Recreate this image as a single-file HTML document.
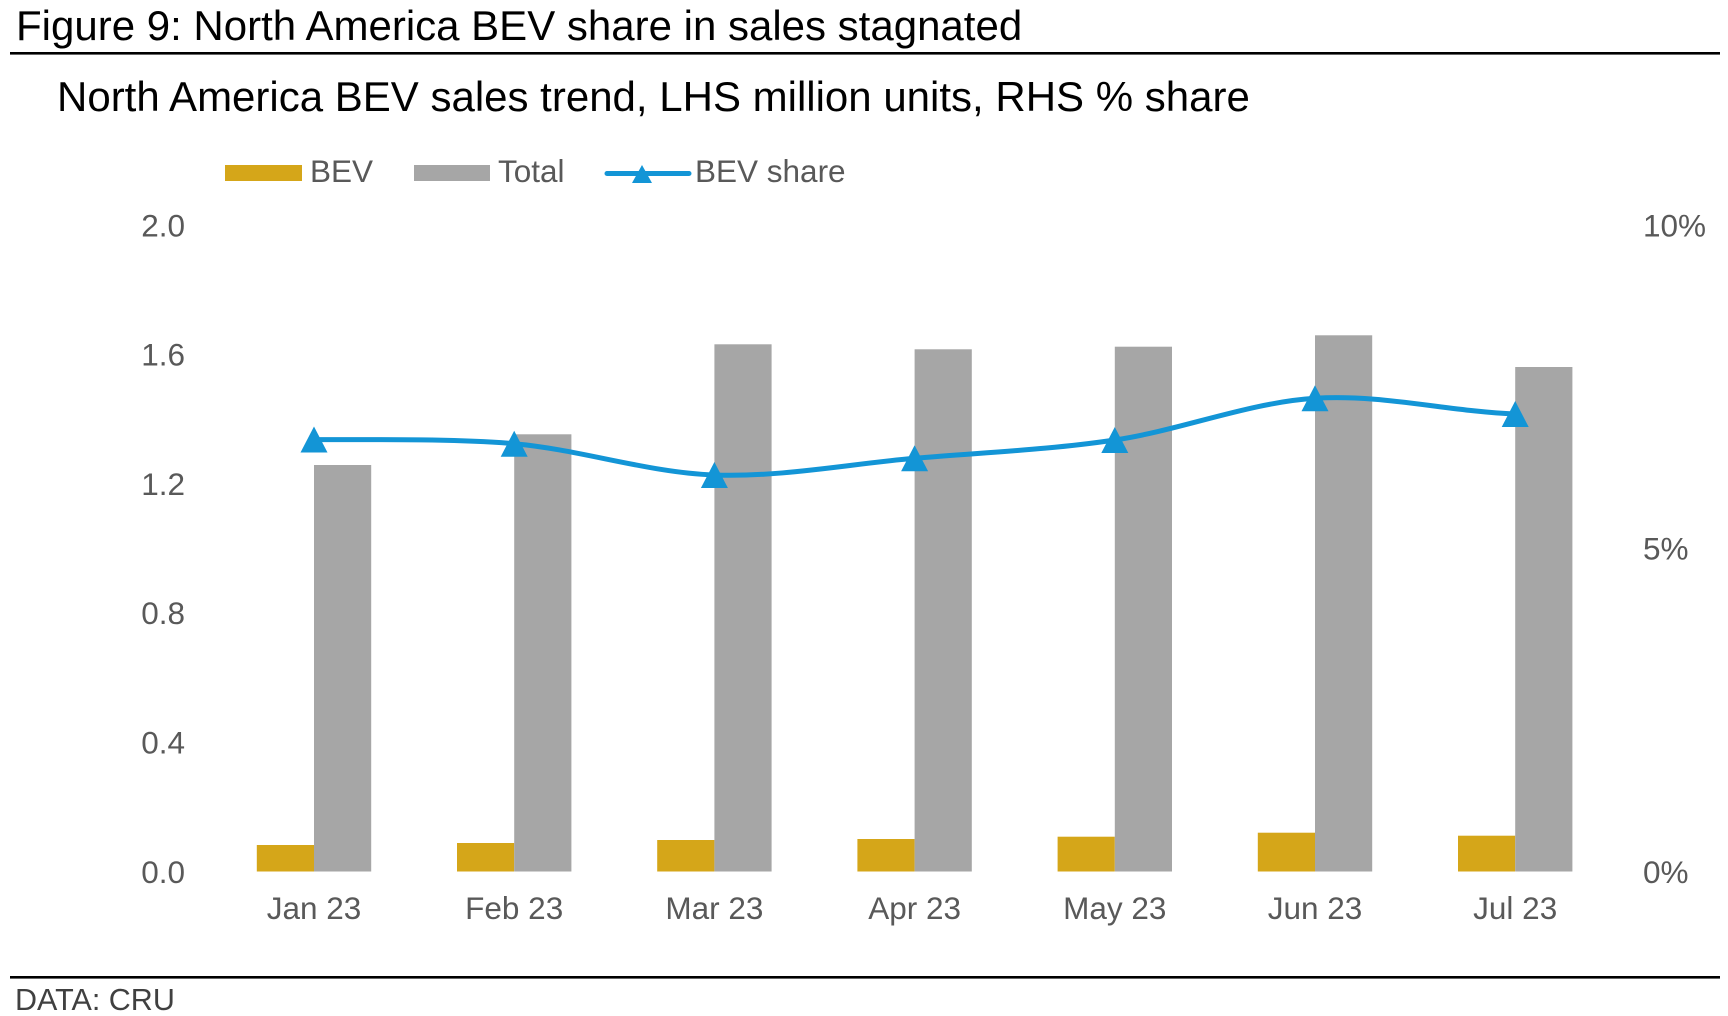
<!DOCTYPE html>
<html>
<head>
<meta charset="utf-8">
<style>
  html, body { margin: 0; padding: 0; background: #ffffff; }
  body { width: 1728px; height: 1016px; overflow: hidden; }
  svg { display: block; }
  text { font-family: "Liberation Sans", Arial, sans-serif; }
</style>
</head>
<body>
<svg width="1728" height="1016" viewBox="0 0 1728 1016" xmlns="http://www.w3.org/2000/svg">
  <rect x="0" y="0" width="1728" height="1016" fill="#ffffff"/>

  <!-- Title -->
  <text x="16" y="40" font-size="42" fill="#000000">Figure 9: North America BEV share in sales stagnated</text>
  <rect x="10" y="52" width="1710" height="2.6" fill="#000000"/>

  <!-- Subtitle -->
  <text x="57" y="111" font-size="42" fill="#000000">North America BEV sales trend, LHS million units, RHS % share</text>

  <!-- Legend -->
  <rect x="225" y="165" width="77" height="16" fill="#D5A619"/>
  <text x="310" y="182" font-size="31.5" fill="#595959">BEV</text>
  <rect x="414" y="165" width="76" height="16" fill="#A6A6A6"/>
  <text x="498" y="182" font-size="31.5" fill="#595959">Total</text>
  <line x1="607" y1="173.5" x2="689" y2="173.5" stroke="#1395D6" stroke-width="5" stroke-linecap="round"/>
  <polygon points="642,165 652,183 632,183" fill="#1395D6"/>
  <text x="695" y="182" font-size="31.5" fill="#595959">BEV share</text>

  <!-- Left axis labels -->
  <g font-size="31.5" fill="#595959" text-anchor="end">
    <text x="185" y="236.3">2.0</text>
    <text x="185" y="365.6">1.6</text>
    <text x="185" y="494.9">1.2</text>
    <text x="185" y="624.2">0.8</text>
    <text x="185" y="753.5">0.4</text>
    <text x="185" y="882.8">0.0</text>
  </g>

  <!-- Right axis labels -->
  <g font-size="31.5" fill="#595959" text-anchor="start">
    <text x="1643" y="236.3">10%</text>
    <text x="1643" y="559.6">5%</text>
    <text x="1643" y="882.8">0%</text>
  </g>

  <!-- Bars: BEV (gold) and Total (gray) -->
  <g fill="#D5A619">
    <rect x="256.8" y="845" width="57.2" height="26.5"/>
    <rect x="457.0" y="843" width="57.2" height="28.5"/>
    <rect x="657.2" y="840" width="57.2" height="31.5"/>
    <rect x="857.4" y="839" width="57.2" height="32.5"/>
    <rect x="1057.6" y="836.7" width="57.2" height="34.8"/>
    <rect x="1257.8" y="832.7" width="57.2" height="38.8"/>
    <rect x="1458.0" y="835.7" width="57.2" height="35.8"/>
  </g>
  <g fill="#A6A6A6">
    <rect x="314.0" y="465" width="57.2" height="406.5"/>
    <rect x="514.2" y="434.3" width="57.2" height="437.2"/>
    <rect x="714.4" y="344.3" width="57.2" height="527.2"/>
    <rect x="914.6" y="349.3" width="57.2" height="522.2"/>
    <rect x="1114.8" y="346.7" width="57.2" height="524.8"/>
    <rect x="1315.0" y="335.3" width="57.2" height="536.2"/>
    <rect x="1515.2" y="367" width="57.2" height="504.5"/>
  </g>

  <!-- Share line (smoothed) -->
  <path d="M314,439.5
           C347.4,440.2 447.5,437.8 514.2,443.7
           C580.9,449.6 647.7,472.6 714.4,475
           C781.1,477.4 847.9,464.1 914.6,458.3
           C981.3,452.5 1048.1,450 1114.8,440
           C1181.5,430 1248.3,402.6 1315,398.3
           C1381.7,394.0 1448.5,411.4 1515.2,414"
        fill="none" stroke="#1395D6" stroke-width="5" stroke-linejoin="round" stroke-linecap="round"/>

  <!-- Markers -->
  <g fill="#1395D6">
    <polygon points="314,426.5 327.5,452.5 300.5,452.5"/>
    <polygon points="514.2,430.7 527.7,456.7 500.7,456.7"/>
    <polygon points="714.4,462 727.9,488 700.9,488"/>
    <polygon points="914.6,445.3 928.1,471.3 901.1,471.3"/>
    <polygon points="1114.8,427 1128.3,453 1101.3,453"/>
    <polygon points="1315,385.3 1328.5,411.3 1301.5,411.3"/>
    <polygon points="1515.2,401 1528.7,427 1501.7,427"/>
  </g>

  <!-- Category labels -->
  <g font-size="31.5" fill="#595959" text-anchor="middle">
    <text x="314" y="919">Jan 23</text>
    <text x="514.2" y="919">Feb 23</text>
    <text x="714.4" y="919">Mar 23</text>
    <text x="914.6" y="919">Apr 23</text>
    <text x="1114.8" y="919">May 23</text>
    <text x="1315" y="919">Jun 23</text>
    <text x="1515.2" y="919">Jul 23</text>
  </g>

  <!-- Footer -->
  <rect x="10" y="976" width="1710" height="2.6" fill="#000000"/>
  <text x="15" y="1010" font-size="30.5" fill="#404040">DATA: CRU</text>
</svg>
</body>
</html>
